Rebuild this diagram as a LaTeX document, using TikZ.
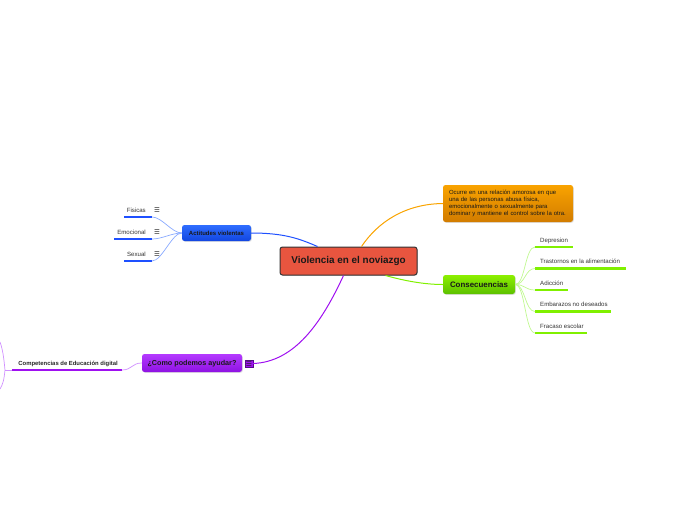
\documentclass[tikz,border=0pt]{standalone}
\usepackage{fontspec}
\setmainfont{Liberation Sans}
\newfontfamily\dejavu{DejaVu Sans}
\usetikzlibrary{shadows}
\definecolor{cred}{HTML}{E8553F}
\definecolor{oranT}{HTML}{F9A300}
\definecolor{oranB}{HTML}{D27C00}
\definecolor{greT}{HTML}{8CF000}
\definecolor{greB}{HTML}{5DC000}
\definecolor{bluT}{HTML}{2F6DFF}
\definecolor{bluB}{HTML}{1246E0}
\definecolor{purT}{HTML}{B43AFF}
\definecolor{purB}{HTML}{8E12E2}
\definecolor{bluL}{HTML}{1E50FF}
\definecolor{greL}{HTML}{80F000}
\definecolor{purL}{HTML}{9F10F0}
\definecolor{lblu}{HTML}{8AAAFF}
\definecolor{lgre}{HTML}{C0F890}
\definecolor{lpur}{HTML}{D090FF}
\begin{document}
\begin{tikzpicture}[x=1pt,y=-1pt,
  mainbox/.style={draw=black!80, line width=1pt, rounded corners=2.5pt, fill=cred,
    minimum width=137pt, minimum height=28pt, inner sep=0pt,
    font=\fontsize{9.9}{11}\selectfont\bfseries, text=black!90,
    drop shadow={opacity=0.25, shadow xshift=0.8pt, shadow yshift=-0.8pt}},
  topic/.style={rounded corners=2.5pt, inner sep=0pt, text=black!90,
    drop shadow={opacity=0.25, shadow xshift=0.8pt, shadow yshift=-0.8pt}},
  leafg/.style={anchor=south west, inner xsep=5pt, inner ysep=4.5pt,
    text height=4.3pt, text depth=0pt, font=\fontsize{6.1}{7}\selectfont, text=black!80},
  leafb/.style={anchor=south east, inner xsep=6pt, inner ysep=4.5pt,
    text height=4.3pt, text depth=0pt, font=\fontsize{6.1}{7}\selectfont, text=black!80},
  icon/.style={inner sep=0pt, font=\dejavu\fontsize{6.5}{7}\selectfont, text=black!85},
  uline/.style={line width=2.4pt},
  conn/.style={line width=1pt},
  thin/.style={line width=0.7pt}
]
\useasboundingbox (0,0) rectangle (696,520);

% central
\node[mainbox] (main) at (348.5,261) {Violencia en el noviazgo};

% orange description
\node[topic, top color=oranT, bottom color=oranB, minimum width=130pt, minimum height=37pt,
  align=left, font=\fontsize{5.95}{7}\selectfont, inner xsep=6pt, text width=118pt] (desc) at (508,203.5)
  {Ocurre en una relación amorosa en que\\una de las personas abusa física,\\emocionalmente o sexualmente para\\dominar y mantiene el control sobre la otra.};

% consecuencias
\node[topic, top color=greT, bottom color=greB, minimum width=72pt, minimum height=19pt,
  text height=5.6pt, text depth=0pt,
  font=\fontsize{7.9}{9}\selectfont\bfseries] (cons) at (479,284.5) {Consecuencias};

\node[leafg] (g1) at (535,247) {Depresion};
\node[leafg] (g2) at (535,268.5) {Trastornos en la alimentación};
\node[leafg] (g3) at (535,290) {Adicción};
\node[leafg] (g4) at (535,311.5) {Embarazos no deseados};
\node[leafg] (g5) at (535,333) {Fracaso escolar};
\foreach \n/\l in {g1/38,g2/91,g3/33,g4/76,g5/52}{
  \draw[uline, greL] (\n.south west) -- ++(\l,0);
  \draw[thin, lgre] (cons.east) .. controls +(10,0) and ([xshift=-10pt]\n.south west) .. (\n.south west);
}

% actitudes violentas
\node[topic, top color=bluT, bottom color=bluB, minimum width=69pt, minimum height=16pt,
  text height=4.3pt, text depth=0pt,
  font=\fontsize{6}{7}\selectfont\bfseries] (act) at (216.5,233) {Actitudes violentas};

\node[leafb] (b1) at (152,217) {Fisicas};
\node[leafb] (b2) at (152,239) {Emocional};
\node[leafb] (b3) at (152,261) {Sexual};
\node[icon] (i1) at (157,210.5) {☰};
\node[icon] (i2) at (157,232.5) {☰};
\node[icon] (i3) at (157,254.5) {☰};
\foreach \n/\l in {b1/28,b2/38,b3/28}{
  \draw[uline, bluL] (\n.south east) -- ++(-\l,0);
  \draw[thin, lblu] (act.west) .. controls +(-10,0) and ([xshift=10pt]\n.south east) .. (\n.south east);
}

% como podemos ayudar
\node[topic, top color=purT, bottom color=purB, minimum width=100pt, minimum height=18pt,
  text height=5.2pt, text depth=0pt,
  font=\fontsize{7.2}{8}\selectfont\bfseries] (como) at (192,363) {¿Como podemos ayudar?};
\node[draw=purB!60!black, line width=0.5pt, fill=purL, minimum size=7.5pt, inner sep=0pt,
  text=black!85, font=\dejavu\bfseries\fontsize{7}{7}\selectfont] (mk) at (249,363.5) {☰};

\node[anchor=south east, inner xsep=4pt, inner ysep=4.5pt, text height=4.3pt, text depth=0pt,
  font=\fontsize{5.9}{7}\selectfont\bfseries, text=black!85]
  (comp) at (122,370) {Competencias de Educación digital};
\draw[uline, purL] (comp.south east) -- ++(-110,0);
\draw[thin, lpur] (como.west) .. controls +(-10,0) and ([xshift=10pt]comp.south east) .. (comp.south east);

\coordinate (lu) at (0,342);
\coordinate (ld) at (0,389);
\coordinate (lm) at (5,370);
\draw[thin, lpur] ([xshift=-110pt]comp.south east) -- (lm);
\draw[thin, lpur] (lm) .. controls (4,360) and (3,350) .. (lu);
\draw[thin, lpur] (lm) .. controls (4,380) and (3,384) .. (ld);

% main connectors
\draw[conn, bluL] (act.east) .. controls (285,233) and (300,239) .. ([xshift=38pt]main.north west);
\draw[conn, oranT] ([xshift=13pt]main.north) .. controls (378,222) and (405,204) .. (desc.west);
\draw[conn, greL] ([xshift=37pt]main.south) .. controls (405,281) and (425,284.5) .. (cons.west);
\draw[conn, purL] ([xshift=-5pt]main.south) .. controls (322,322) and (295,362) .. (mk.east);
\end{tikzpicture}
\end{document}
